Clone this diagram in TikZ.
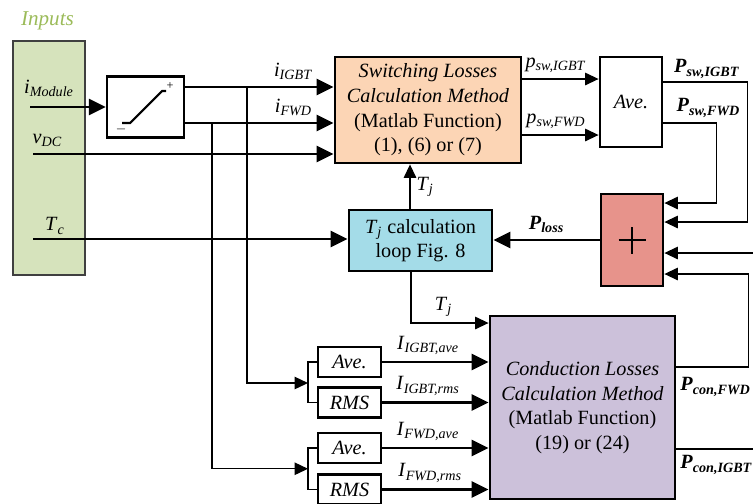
\documentclass[tikz,border=0pt]{standalone}
\usepackage{fontspec}
\setmainfont{Liberation Serif}
\usetikzlibrary{arrows.meta,positioning}

\definecolor{inpgreen}{RGB}{214,227,188}
\definecolor{inptext}{RGB}{155,187,89}
\definecolor{swpeach}{RGB}{252,213,181}
\definecolor{tjblue}{RGB}{164,220,232}
\definecolor{sumred}{RGB}{231,147,139}
\definecolor{conpurple}{RGB}{204,193,218}

\newcommand{\sig}[2]{\textit{#1}\textsubscript{\textit{#2}}}
\newcommand{\bsig}[2]{\textbf{\textit{#1}\textsubscript{\textbf{\textit{#2}}}}}

\begin{document}
\begin{tikzpicture}[
    font=\fontsize{11.5}{14}\selectfont,
    blk/.style={draw, line width=1.6pt, align=center, inner sep=0pt},
    sbox/.style={blk, minimum width=1.26cm, minimum height=0.6cm, font=\fontsize{11.5}{14}\selectfont\itshape},
    bus/.style={line width=1.6pt, -{Triangle[length=0.34cm,width=0.32cm]}},
    wire/.style={line width=0.75pt, -{Triangle[length=0.27cm,width=0.25cm]}},
    tap/.style={line width=0.75pt}
]
\useasboundingbox (0,0) rectangle (15.06,-10.06);

\node[draw=black!75, line width=0.8pt, fill=inpgreen, minimum width=1.44cm, minimum height=4.68cm] (inp) at (0.98,-3.16) {};
\node[text=inptext, font=\fontsize{12}{14}\selectfont\itshape] (inptitle) at (0.95,-0.42) {Inputs};
\node (lmod) at (0.98,-1.76) {\sig{i}{Module}};
\node (lvdc) at (0.95,-2.80) {\sig{v}{DC}};
\node (ltc) at (1.10,-4.52) {\sig{T}{c}};
\coordinate (imod) at (0.60,-2.14);
\coordinate (vdc) at (0.66,-3.08);
\coordinate (tc) at (0.66,-4.78);

\node[blk, line width=1.3pt, minimum width=1.54cm, minimum height=1.22cm] (sat) at (2.91,-2.14) {};
\draw[line width=1.2pt] (2.44,-2.46) -- (2.60,-2.46) -- (3.24,-1.82) -- (3.32,-1.82);
\node[font=\scriptsize, inner sep=0pt] (satp) at (3.40,-1.72) {+};
\node[font=\scriptsize, inner sep=0pt] (satm) at (2.42,-2.58) {$-$};

\node[blk, fill=swpeach, minimum width=3.72cm, minimum height=2.12cm] (sw) at (8.56,-2.20)
    {\textit{Switching Losses}\\\textit{Calculation Method}\\(Matlab Function)\\(1), (6) or (7)};
\node[blk, fill=tjblue, minimum width=2.86cm, minimum height=1.22cm] (tj) at (8.41,-4.81)
    {\sig{T}{j} calculation\\loop Fig. 8};
\node[blk, fill=white, minimum width=1.24cm, minimum height=1.80cm, font=\fontsize{11.5}{14}\selectfont\itshape] (ave) at (12.62,-2.04) {Ave.};
\node[blk, fill=sumred, minimum width=1.24cm, minimum height=1.84cm] (sum) at (12.64,-4.80) {};
\draw[line width=0.8pt] ([xshift=-0.27cm]sum.center) -- ([xshift=0.27cm]sum.center);
\draw[line width=0.8pt] ([yshift=-0.27cm]sum.center) -- ([yshift=0.27cm]sum.center);
\node[blk, fill=conpurple, minimum width=3.70cm, minimum height=3.66cm] (con) at (11.65,-8.15)
    {\textit{Conduction Losses}\\\textit{Calculation Method}\\(Matlab Function)\\(19) or (24)};

\node[sbox] (ave1) at (6.99,-7.24) {Ave.};
\node[sbox] (rms1) at (6.99,-8.05) {RMS};
\node[sbox] (ave2) at (6.99,-8.96) {Ave.};
\node[sbox] (rms2) at (6.99,-9.79) {RMS};

% inputs to switching losses
\draw[bus] (imod) -- (sat);
\coordinate (satout1) at ([yshift=0.40cm]sat.east);
\coordinate (satout2) at ([yshift=-0.32cm]sat.east);
\draw[bus] (satout1) -- (satout1 -| sw.west) node[pos=0.73, above] {\sig{i}{IGBT}};
\draw[bus] (satout2) -- (satout2 -| sw.west) node[pos=0.73, above] {\sig{i}{FWD}};
\draw[bus] (vdc) -- (vdc -| sw.west);
\draw[bus] (tc) -- (tc -| tj.west);

% taps to Ave./RMS
\coordinate (tap1) at (4.94,-1.74);
\coordinate (tap2) at (4.24,-2.46);
\coordinate (f1) at (6.16,-7.66);
\coordinate (f2) at (6.16,-9.375);
\draw[tap] (ave1.west) -| (f1) |- (rms1.west);
\draw[tap] (ave2.west) -| (f2) |- (rms2.west);
\draw[wire] (tap1) |- (f1);
\draw[wire] (tap2) |- (f2);

\draw[bus] (ave1) -- (ave1 -| con.west) node[pos=0.43, above] {\sig{I}{IGBT,ave}};
\draw[bus] (rms1) -- (rms1 -| con.west) node[pos=0.43, above] {\sig{I}{IGBT,rms}};
\draw[bus] (ave2) -- (ave2 -| con.west) node[pos=0.43, above] {\sig{I}{FWD,ave}};
\draw[bus] (rms2) -- (rms2 -| con.west) node[pos=0.45, above] {\sig{I}{FWD,rms}};

% switching outputs
\coordinate (psw1) at ([yshift=0.62cm]sw.east);
\coordinate (psw2) at ([yshift=-0.50cm]sw.east);
\draw[wire] (psw1) -- (psw1 -| ave.west) node[pos=0.44, above] {\sig{p}{sw,IGBT}};
\draw[wire] (psw2) -- (psw2 -| ave.west) node[pos=0.44, above] {\sig{p}{sw,FWD}};

\coordinate (Pout1) at ([yshift=0.40cm]ave.east);
\coordinate (Pout2) at ([yshift=-0.42cm]ave.east);
\draw[wire] (Pout1) -- ++(1.68,0) |- ([yshift=0.36cm]sum.east);
\draw[wire] (Pout2) -- ++(1.06,0) |- ([yshift=0.74cm]sum.east);
\node (lPsw1) at (14.14,-1.38) {\bsig{P}{sw,IGBT}};
\node (lPsw2) at (14.17,-2.16) {\bsig{P}{sw,FWD}};

% loss and junction temperature
\draw[bus] (sum.west) -- (sum.west -| tj.east) node[midway, above] {\bsig{P}{loss}};
\coordinate (tjup) at ([xshift=-0.21cm]tj.north);
\draw[wire] (tjup) -- (tjup |- sw.south) node[midway, right] {\sig{T}{j}};
\coordinate (tjdn) at ([xshift=-0.19cm]tj.south);
\draw[wire] (tjdn) |- ([yshift=1.69cm]con.west);
\node (ltj) at (8.87,-6.14) {\sig{T}{j}};

% conduction outputs
\coordinate (conout1) at ([yshift=0.81cm]con.east);
\coordinate (conout2) at ([yshift=-0.83cm]con.east);
\draw[wire] (conout1) -- ++(1.44,0) |- ([yshift=-0.68cm]sum.east);
\draw[wire] (conout2) -- ++(1.9,0) |- ([yshift=-0.26cm]sum.east);
\node[anchor=west, inner sep=0pt] (lPcon1) at (13.60,-7.74) {\bsig{P}{con,FWD}};
\node[anchor=west, inner sep=0pt] (lPcon2) at (13.60,-9.30) {\bsig{P}{con,IGBT}};
\end{tikzpicture}
\end{document}
